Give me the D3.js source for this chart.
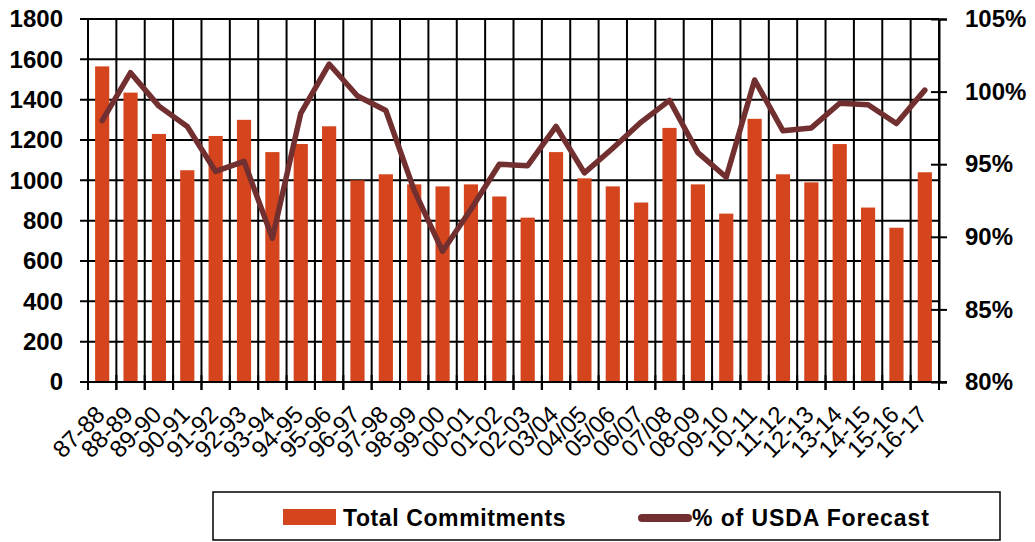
<!DOCTYPE html>
<html>
<head>
<meta charset="utf-8">
<script src="https://cdn.jsdelivr.net/npm/d3@7"></script>
<style>
  body { margin: 0; background: #fff; }
  svg { display: block; font-family: "Liberation Sans", Arial, sans-serif; }
</style>
</head>
<body>
<div id="wrapper"></div>
<script>
const seasons = ["87-88","88-89","89-90","90-91","91-92","92-93","93-94","94-95","95-96","96-97",
  "97-98","98-99","99-00","00-01","01-02","02-03","03/04","04/05","05/06","06/07",
  "07/08","08-09","09-10","10-11","11-12","12-13","13-14","14-15","15-16","16-17"];
const commitments = [1565,1435,1230,1050,1220,1300,1140,1180,1268,1000,
  1030,980,970,980,920,815,1140,1010,970,890,
  1260,980,835,1305,1030,990,1180,865,765,1040];
const pctForecast = [98.0,101.3,99.0,97.6,94.5,95.2,89.9,98.5,101.9,99.7,
  98.7,93.2,89.0,91.9,95.0,94.9,97.6,94.4,96.1,97.9,
  99.4,95.8,94.1,100.8,97.3,97.5,99.2,99.1,97.8,100.1];
const leftTicks = [0,200,400,600,800,1000,1200,1400,1600,1800];
const rightTicks = [80,85,90,95,100,105];

function chartDraw() {
    const dimensions = {
        width: 1035,
        height: 542,
        margin: { top: 19, right: 96, bottom: 160, left: 88 },
    }
    dimensions.boundedWidth = dimensions.width - dimensions.margin.left - dimensions.margin.right
    dimensions.boundedHeight = dimensions.height - dimensions.margin.top - dimensions.margin.bottom

    const svg = d3.select("#wrapper").html("")
        .append("svg")
        .attr("width", dimensions.width)
        .attr("height", dimensions.height);

    const bounds = svg.append("g")
        .attr("transform", `translate(${dimensions.margin.left},${dimensions.margin.top})`);

    const xScaler = d3.scaleBand()
        .domain(seasons)
        .range([0, dimensions.boundedWidth])
        .paddingInner(0.5)
        .paddingOuter(0.25);

    const yScaler = d3.scaleLinear()
        .domain([0, 1800])
        .range([dimensions.boundedHeight, 0]);

    const y2Scaler = d3.scaleLinear()
        .domain([80, 105])
        .range([dimensions.boundedHeight, 0]);

    const step = xScaler.step();
    const boundaries = seasons.map(s => xScaler(s) - step * 0.25).concat([dimensions.boundedWidth]);

    // grid
    bounds.append("g").selectAll("line")
        .data(leftTicks)
        .join("line")
        .attr("x1", -8)
        .attr("x2", dimensions.boundedWidth)
        .attr("y1", d => yScaler(d))
        .attr("y2", d => yScaler(d))
        .attr("stroke", "#000")
        .attr("stroke-width", 2);

    bounds.append("g").selectAll("line")
        .data(boundaries)
        .join("line")
        .attr("x1", d => d)
        .attr("x2", d => d)
        .attr("y1", 0)
        .attr("y2", dimensions.boundedHeight + 8)
        .attr("stroke", "#000")
        .attr("stroke-width", 2);

    // bars
    bounds.append("g").selectAll("rect")
        .data(commitments)
        .join("rect")
        .attr("x", (d, i) => xScaler(seasons[i]))
        .attr("y", d => yScaler(d))
        .attr("width", xScaler.bandwidth())
        .attr("height", d => dimensions.boundedHeight - yScaler(d))
        .attr("fill", "#D5451D");

    // line
    const lineGen = d3.line()
        .x((d, i) => xScaler(seasons[i]) + xScaler.bandwidth() / 2)
        .y(d => y2Scaler(d));
    bounds.append("path")
        .datum(pctForecast)
        .attr("d", lineGen)
        .attr("fill", "none")
        .attr("stroke", "#722F30")
        .attr("stroke-width", 5.5)
        .attr("stroke-linejoin", "round")
        .attr("stroke-linecap", "round");

    // bottom axis line and crossing ticks
    bounds.append("line")
        .attr("x1", -8).attr("x2", dimensions.boundedWidth + 8)
        .attr("y1", dimensions.boundedHeight).attr("y2", dimensions.boundedHeight)
        .attr("stroke", "#000").attr("stroke-width", 2);
    bounds.append("g").selectAll("line")
        .data(boundaries)
        .join("line")
        .attr("x1", d => d).attr("x2", d => d)
        .attr("y1", dimensions.boundedHeight - 7)
        .attr("y2", dimensions.boundedHeight + 8)
        .attr("stroke", "#000").attr("stroke-width", 2);

    // left labels
    bounds.append("g").selectAll("text")
        .data(leftTicks)
        .join("text")
        .attr("x", -25)
        .attr("y", d => yScaler(d))
        .attr("dy", "0.35em")
        .attr("text-anchor", "end")
        .attr("font-size", "24px")
        .attr("font-weight", "bold")
        .text(d => d);

    // right axis
    const y2AxisGen = d3.axisRight(y2Scaler)
        .tickValues(rightTicks)
        .tickSize(8)
        .tickFormat(d => d + "%");
    const y2Axis = bounds.append("g")
        .attr("transform", `translate(${dimensions.boundedWidth},0)`)
        .call(y2AxisGen);
    y2Axis.select(".domain").attr("stroke", "#000").attr("stroke-width", 2);
    y2Axis.selectAll(".tick line")
        .attr("x1", -8).attr("x2", 8)
        .attr("stroke", "#000").attr("stroke-width", 2);
    y2Axis.selectAll(".tick text")
        .attr("x", 26)
        .attr("font-size", "24px")
        .attr("font-weight", "bold")
        .attr("font-family", "Liberation Sans, Arial, sans-serif")
        .attr("fill", "#000");

    // x labels
    bounds.append("g").selectAll("text")
        .data(seasons)
        .join("text")
        .attr("transform", d => {
            const cx = xScaler(d) + xScaler.bandwidth() / 2 - 2;
            return `translate(${cx},${dimensions.boundedHeight + 28}) rotate(-45)`;
        })
        .attr("text-anchor", "end")
        .attr("dy", "0.35em")
        .attr("font-size", "24px")
        .text(d => d);

    // legend
    const legend = svg.append("g");
    legend.append("rect")
        .attr("x", 213).attr("y", 492)
        .attr("width", 787).attr("height", 48)
        .attr("fill", "#fff")
        .attr("stroke", "#000")
        .attr("stroke-width", 1.5);
    legend.append("rect")
        .attr("x", 283).attr("y", 509)
        .attr("width", 53).attr("height", 16)
        .attr("fill", "#D5451D");
    legend.append("text")
        .attr("x", 343).attr("y", 526)
        .attr("font-size", "23px")
        .attr("font-weight", "bold")
        .attr("letter-spacing", "0.6px")
        .text("Total Commitments");
    legend.append("line")
        .attr("x1", 642).attr("x2", 688)
        .attr("y1", 518).attr("y2", 518)
        .attr("stroke", "#722F30")
        .attr("stroke-width", 8)
        .attr("stroke-linecap", "round");
    legend.append("text")
        .attr("x", 692).attr("y", 526)
        .attr("font-size", "23px")
        .attr("font-weight", "bold")
        .attr("letter-spacing", "0.9px")
        .text("% of USDA Forecast");
}

chartDraw();
</script>
</body>
</html>
